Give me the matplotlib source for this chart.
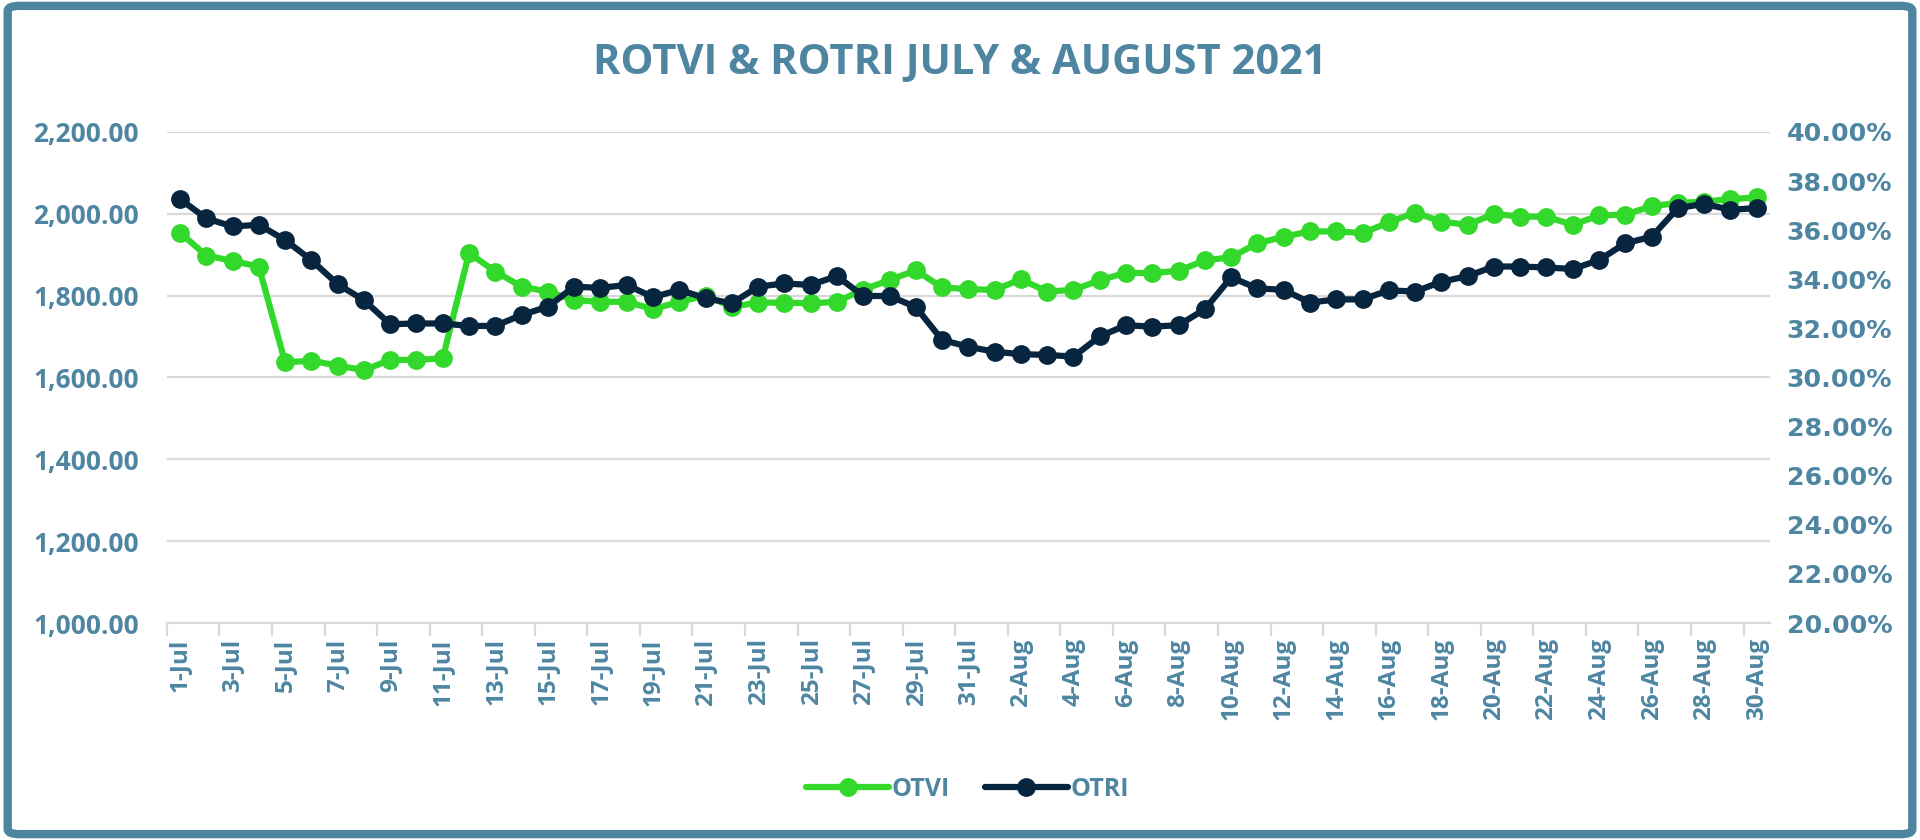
import numpy as np
import matplotlib
matplotlib.use("Agg")
import matplotlib.pyplot as plt
from matplotlib.patches import FancyBboxPatch
from matplotlib.ticker import FuncFormatter, FixedLocator

# data
dates = [f"{d}-Jul" for d in range(1, 32)] + [f"{d}-Aug" for d in range(1, 31)]

otvi = [1954, 1898, 1885, 1871, 1637, 1641, 1629, 1618, 1643, 1643,
        1647, 1904, 1859, 1822, 1810, 1789, 1785, 1785, 1767, 1785,
        1800, 1773, 1783, 1783, 1781, 1785, 1815, 1838, 1862, 1820,
        1816, 1814, 1840, 1810, 1814, 1838, 1856, 1855, 1861, 1886,
        1894, 1928, 1944, 1957, 1957, 1953, 1979, 2003, 1981, 1973,
        2000, 1993, 1993, 1973, 1996, 1998, 2019, 2026, 2030, 2036,
        2040]

otri = [37.27, 36.48, 36.15, 36.22, 35.60, 34.78, 33.80, 33.15, 32.17, 32.20,
        32.20, 32.10, 32.10, 32.55, 32.88, 33.70, 33.65, 33.77, 33.27, 33.57,
        33.23, 33.02, 33.70, 33.83, 33.77, 34.13, 33.32, 33.32, 32.87, 31.53,
        31.25, 31.05, 30.95, 30.92, 30.85, 31.67, 32.13, 32.07, 32.13, 32.78,
        34.08, 33.63, 33.57, 33.05, 33.18, 33.18, 33.55, 33.50, 33.90, 34.13,
        34.52, 34.52, 34.48, 34.42, 34.78, 35.47, 35.73, 36.90, 37.07, 36.83,
        36.90]

title = "ROTVI & ROTRI JULY & AUGUST 2021"

text_col = "#4E86A2"
green = "#33D92A"
navy = "#08253F"
grid_col = "#D9D9D9"

fig = plt.figure(figsize=(19.2, 8.4), dpi=100)
ax = fig.add_axes([0.0869, 0.2583, 0.8349, 0.5846])
ax2 = ax.twinx()

x = np.arange(len(dates))
l1, = ax.plot(x, otvi, color=green, lw=4.5, marker="o", ms=12.5,
              solid_capstyle="round", label="OTVI", zorder=3)
l2, = ax2.plot(x, otri, color=navy, lw=4.5, marker="o", ms=12.5,
               solid_capstyle="round", label="OTRI", zorder=3)

ax.set_xlim(-0.5, len(dates) - 0.5)
ax.set_ylim(1000, 2200)
ax2.set_ylim(20, 40)
ax.set_yticks(np.arange(1000, 2201, 200))
ax2.set_yticks(np.arange(20, 40.1, 2))

ax.yaxis.set_major_formatter(FuncFormatter(lambda v, p: f"{v:,.2f}"))
ax2.yaxis.set_major_formatter(FuncFormatter(lambda v, p: f"{v:.2f}%"))

ax.grid(axis="y", color=grid_col, lw=1.6)
ax.set_axisbelow(True)

# category labels every second day, ticks on category boundaries
ax.set_xticks(x[::2])
ax.set_xticklabels(dates[::2], rotation=90, fontsize=17.5, fontweight="bold",
                   color=text_col, family="Open Sans")
ax.tick_params(axis="x", length=0, pad=11)
ax.xaxis.set_minor_locator(FixedLocator(np.arange(-0.5, len(dates), 2)))
ax.tick_params(axis="x", which="minor", length=9, width=1.6, color=grid_col)

ax.tick_params(axis="y", length=0, pad=20, labelsize=19, labelcolor=text_col)
for t in ax.get_yticklabels():
    t.set_fontweight("bold")
    t.set_family("Open Sans")
ax2.tick_params(axis="y", length=0, pad=12, labelsize=18.2, labelcolor=text_col)
for t in ax2.get_yticklabels():
    t.set_fontweight("bold")
    t.set_family("DejaVu Sans")

for a in (ax, ax2):
    for s in ("top", "left", "right"):
        a.spines[s].set_visible(False)
    a.spines["bottom"].set_color(grid_col)
    a.spines["bottom"].set_linewidth(1.6)
ax2.spines["bottom"].set_visible(False)

fig.text(0.5, 0.924, title, ha="center", va="center", fontsize=30,
         fontweight="bold", color=text_col, family="Open Sans")

leg = fig.legend(handles=[l1, l2], loc="center", bbox_to_anchor=(0.504, 0.06),
                 ncol=2, frameon=False, handlelength=3.3, columnspacing=1.4,
                 handletextpad=0.12, prop={"family": "Open Sans", "weight": "bold",
                                           "size": 18})
for t in leg.get_texts():
    t.set_color(text_col)

border = FancyBboxPatch((0.004, 0.007), 0.992, 0.986,
                        boxstyle="round,pad=0,rounding_size=0.006",
                        transform=fig.transFigure, fill=False,
                        edgecolor=text_col, lw=6, zorder=10)
fig.patches.append(border)

fig.savefig("out.png", dpi=100)
